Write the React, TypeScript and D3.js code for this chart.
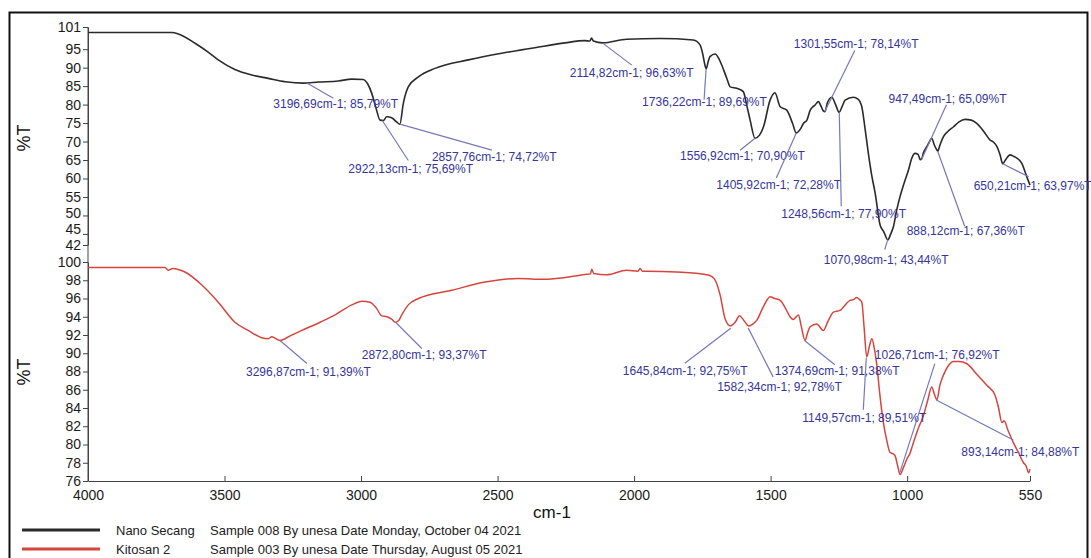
import { useEffect, useRef } from "react";
import * as d3 from "d3";

// top spectrum: Nano Secang (wavenumber cm-1, %T)
const nanoWave = [4000, 3850, 3693, 3669, 3608, 3560, 3523, 3462, 3400, 3340, 3278, 3211, 3156, 3083, 3034, 2992, 2975, 2961, 2945, 2930, 2918, 2906, 2888, 2870, 2858, 2845, 2827, 2790, 2729, 2607, 2485, 2363, 2253, 2180, 2162, 2156, 2149, 2115, 2027, 1905, 1783, 1758, 1748, 1740, 1736, 1728, 1722, 1703, 1690, 1679, 1660, 1648, 1624, 1600, 1588, 1575, 1557, 1540, 1526, 1502, 1484, 1465, 1441, 1420, 1406, 1390, 1380, 1367, 1355, 1337, 1325, 1315, 1307, 1301, 1292, 1276, 1262, 1249, 1238, 1227, 1197, 1180, 1166, 1155, 1142, 1130, 1117, 1099, 1085, 1071, 1060, 1050, 1038, 1026, 1010, 995, 983, 971, 960, 952, 947, 940, 928, 918, 910, 900, 891, 888, 880, 867, 850, 830, 810, 788, 765, 745, 720, 696, 683, 671, 660, 650, 640, 623, 610, 598, 580, 562, 550];
const nanoT = [99.5, 99.5, 99.5, 99.1, 96.6, 94.2, 92.1, 89.5, 88.0, 87.1, 86.2, 85.8, 86.1, 86.4, 86.9, 86.8, 85.5, 83.1, 79.0, 75.8, 75.7, 76.7, 76.45, 75.3, 74.7, 80.4, 84.8, 87.5, 89.8, 92.1, 93.9, 95.4, 96.7, 97.3, 97.2, 98.0, 97.2, 96.7, 97.7, 97.9, 97.5, 96.1, 93.5, 90.5, 89.7, 91.8, 93.0, 93.7, 92.5, 90.7, 87.0, 84.8, 84.4, 83.5, 80.0, 75.8, 70.9, 71.8, 74.0, 81.2, 83.2, 79.4, 78.5, 75.0, 72.3, 73.5, 74.9, 75.8, 78.5, 79.9, 80.8, 79.5, 78.3, 78.1, 80.5, 82.0, 80.0, 77.9, 79.5, 81.2, 82.0, 81.5, 79.4, 74.0, 66.8, 61.0, 56.0, 47.4, 45.5, 43.4, 45.0, 47.0, 51.5, 55.1, 59.0, 62.3, 65.5, 66.8, 66.5, 65.1, 65.3, 67.0, 68.6, 70.0, 70.9, 69.0, 67.7, 67.4, 69.0, 71.3, 72.8, 74.0, 75.3, 76.0, 75.8, 74.9, 72.8, 70.4, 69.8, 68.6, 66.5, 64.0, 65.0, 66.4, 66.0, 65.5, 64.1, 60.5, 58.2];

// bottom spectrum: Kitosan 2
const kitoWave = [4000, 3850, 3718, 3706, 3690, 3645, 3584, 3523, 3462, 3413, 3364, 3340, 3327, 3297, 3260, 3217, 3150, 3095, 3034, 2997, 2967, 2945, 2924, 2905, 2886, 2875, 2862, 2851, 2827, 2790, 2668, 2546, 2424, 2330, 2253, 2173, 2160, 2155, 2148, 2100, 2027, 1985, 1978, 1970, 1954, 1844, 1734, 1715, 1703, 1685, 1667, 1648, 1630, 1614, 1598, 1581, 1565, 1551, 1525, 1502, 1485, 1465, 1445, 1429, 1418, 1398, 1388, 1374, 1365, 1355, 1331, 1307, 1290, 1270, 1246, 1209, 1195, 1185, 1175, 1166, 1158, 1148, 1138, 1129, 1120, 1111, 1100, 1087, 1075, 1062, 1052, 1044, 1035, 1026, 1012, 1001, 990, 977, 960, 940, 925, 910, 900, 891, 880, 867, 850, 830, 810, 781, 745, 708, 678, 665, 653, 645, 630, 611, 590, 574, 565, 555, 550];
const kitoT = [99.4, 99.4, 99.4, 99.1, 99.3, 98.9, 97.5, 95.6, 93.4, 92.5, 91.7, 91.6, 91.8, 91.4, 91.9, 92.5, 93.4, 94.2, 95.3, 95.7, 95.6, 95.0, 94.1, 94.0, 93.7, 93.4, 93.6, 94.2, 95.3, 96.0, 96.9, 97.8, 98.2, 98.1, 98.3, 98.65, 98.7, 99.2, 98.75, 98.6, 99.1, 99.0, 99.3, 99.0, 99.0, 98.9, 98.6, 98.4, 98.0, 96.4, 93.8, 93.0, 93.4, 94.1, 93.6, 93.0, 93.2, 93.6, 95.2, 96.2, 96.0, 95.8, 94.9, 94.0, 93.7, 94.2, 93.0, 91.4, 92.2, 92.9, 93.2, 92.5, 93.5, 94.5, 94.7, 95.8, 95.9, 96.1, 95.9, 95.6, 93.0, 89.6, 90.8, 91.6, 90.5, 88.7, 85.5, 82.4, 80.5, 79.1, 79.0, 78.75, 77.7, 76.7, 77.6, 78.4, 79.0, 80.2, 81.7, 83.2, 84.8, 86.3, 85.5, 84.9, 86.5, 87.6, 88.6, 89.1, 89.1, 88.85, 87.7, 86.5, 85.4, 84.0, 82.4, 82.6, 81.5, 80.2, 79.0, 78.0, 77.7, 76.9, 77.3];

// peak picks
const nanoPeakWave = [3196.69, 2922.13, 2857.76, 2114.82, 1736.22, 1556.92, 1405.92, 1301.55, 1248.56, 1070.98, 947.49, 888.12, 650.21];
const nanoPeakT = [85.79, 75.69, 74.72, 96.63, 89.69, 70.9, 72.28, 78.14, 77.9, 43.44, 65.09, 67.36, 63.97];
const kitoPeakWave = [3296.87, 2872.8, 1645.84, 1582.34, 1374.69, 1149.57, 1026.71, 893.14];
const kitoPeakT = [91.39, 93.37, 92.75, 92.78, 91.38, 89.51, 76.92, 84.88];

// label layout (offsets from the peak point): [labelDx, labelDy, leaderDx, leaderDy]
const nanoLabelPos = [
  [-34, 21, 26, 15], [-34, 48, 26, 40], [32, 33, 92, 26], [-33, 30, 29, 22],
  [-64, 33, -2, 31], [-75, 18, -15, 12], [-80, 52, -20, 45], [-31, -68, 30, -61],
  [-58, 101, 2, 94], [-64, 20, -3, 10], [-33, -61, 25, -55], [-31, 80, 27, 75],
  [-29, 22, 26, 13],
];
const kitoLabelPos = [
  [-34, 31, 27, 23], [-34, 32, 26, 26], [-108, 43, -46, 35], [-31, 59, 25, 49],
  [-30, 30, 30, 24], [-64, 60, -3, 52], [-25, -118, 35, -109], [25, 52, 77, 40],
];

const xTicks = [4000, 3500, 3000, 2500, 2000, 1500, 1000, 550];
const nanoTicks = [101, 95, 90, 85, 80, 75, 70, 65, 60, 55, 50, 45, 42];
const kitoTicks = [100, 98, 96, 94, 92, 90, 88, 86, 84, 82, 80, 78, 76];

const legendNames = ["Nano Secang", "Kitosan 2"];
const legendInfo = [
  "Sample 008 By unesa Date Monday, October 04 2021",
  "Sample 003 By unesa Date Thursday, August 05 2021",
];

const fmt = (v: number) => v.toFixed(2).replace(".", ",");

export default function App() {
  const ref = useRef<SVGSVGElement>(null);

  useEffect(() => {
    const svg = d3.select(ref.current);
    svg.selectAll("*").remove();
    const font = "'Liberation Sans', Arial, sans-serif";
    const W = 1091;
    const H = 558;
    const left = 88;
    const right = 1030;

    svg.append("rect").attr("width", W).attr("height", H).attr("fill", "#fff");
    svg
      .append("rect")
      .attr("x", 9.5)
      .attr("y", 12.5)
      .attr("width", 1078)
      .attr("height", 570)
      .attr("fill", "none")
      .attr("stroke", "#111")
      .attr("stroke-width", 2);

    const x = d3.scaleLinear().domain([4000, 550]).range([left, right]);
    const yTop = d3.scaleLinear().domain([101, 42]).range([27, 245]);
    const yBot = d3.scaleLinear().domain([100, 76]).range([262, 481]);

    const styleAxis = (g) => {
      g.selectAll("text")
        .attr("font-family", font)
        .attr("font-size", 14)
        .attr("fill", "#1a1a1a");
      g.selectAll("line").attr("stroke", "#444");
      g.select(".domain").attr("stroke", "#444");
    };

    const topAxis = svg
      .append("g")
      .attr("transform", `translate(${left},0)`)
      .call(d3.axisLeft(yTop).tickValues(nanoTicks).tickSize(5).tickSizeOuter(0).tickPadding(2))
      .call(styleAxis);
    // the bottom labels of the top panel sit a little higher, as in the original
    topAxis
      .selectAll(".tick text")
      .attr("dy", (d) => (d === 45 ? "-0.05em" : d === 50 ? "0.15em" : "0.32em"));

    svg
      .append("g")
      .attr("transform", `translate(${left},0)`)
      .call(d3.axisLeft(yBot).tickValues(kitoTicks).tickSize(5).tickSizeOuter(0).tickPadding(2))
      .call(styleAxis);
    svg
      .append("line")
      .attr("x1", left)
      .attr("x2", left)
      .attr("y1", yTop(101))
      .attr("y2", yBot(76))
      .attr("stroke", "#444");
    svg
      .append("g")
      .attr("transform", `translate(0,${yBot(76)})`)
      .call(d3.axisBottom(x).tickValues(xTicks).tickFormat(d3.format("d")).tickSize(-5).tickSizeOuter(0).tickPadding(9))
      .call(styleAxis);

    svg
      .append("text")
      .text("cm-1")
      .attr("x", 552)
      .attr("y", 518)
      .attr("text-anchor", "middle")
      .attr("font-family", font)
      .attr("font-size", 17)
      .attr("fill", "#111");
    [138, 372].forEach((cy) => {
      svg
        .append("text")
        .text("%T")
        .attr("transform", `translate(30,${cy}) rotate(-90)`)
        .attr("text-anchor", "middle")
        .attr("font-family", font)
        .attr("font-size", 18)
        .attr("fill", "#111");
    });

    const series = [
      { wave: nanoWave, t: nanoT, y: yTop, color: "#2a2a2a", width: 1.6 },
      { wave: kitoWave, t: kitoT, y: yBot, color: "#d6453d", width: 1.5 },
    ];
    series.forEach((s) => {
      const line = d3
        .line<number>()
        .x((d, i) => x(s.wave[i]))
        .y((d) => s.y(d))
        .curve(d3.curveMonotoneX);
      svg
        .append("path")
        .attr("d", line(s.t))
        .attr("fill", "none")
        .attr("stroke", s.color)
        .attr("stroke-width", s.width)
        .attr("stroke-linejoin", "round");
    });

    const peaks = [
      { wave: nanoPeakWave, t: nanoPeakT, pos: nanoLabelPos, y: yTop },
      { wave: kitoPeakWave, t: kitoPeakT, pos: kitoLabelPos, y: yBot },
    ];
    peaks.forEach((p) => {
      const g = svg.append("g");
      p.wave.forEach((w, i) => {
        const px = x(w);
        const py = p.y(p.t[i]);
        const [lx, ly, ex, ey] = p.pos[i];
        g.append("line")
          .attr("x1", px)
          .attr("y1", py)
          .attr("x2", px + ex)
          .attr("y2", py + ey)
          .attr("stroke", "#7777bb")
          .attr("stroke-width", 1.2);
        g.append("text")
          .text(`${fmt(w)}cm-1; ${fmt(p.t[i])}%T`)
          .attr("x", px + lx)
          .attr("y", py + ly)
          .attr("dy", "0.35em")
          .attr("font-family", font)
          .attr("font-size", 12)
          .attr("fill", "#35359a");
      });
    });

    const legendColors = ["#2a2a2a", "#d6453d"];
    legendNames.forEach((name, i) => {
      const ly = 530 + i * 19;
      svg
        .append("line")
        .attr("x1", 22)
        .attr("x2", 100)
        .attr("y1", ly)
        .attr("y2", ly)
        .attr("stroke", legendColors[i])
        .attr("stroke-width", 3);
      svg
        .append("text")
        .text(name)
        .attr("x", 116)
        .attr("y", ly + 4.5)
        .attr("font-family", font)
        .attr("font-size", 13)
        .attr("fill", "#222");
      svg
        .append("text")
        .text(legendInfo[i])
        .attr("x", 210)
        .attr("y", ly + 4.5)
        .attr("font-family", font)
        .attr("font-size", 13)
        .attr("fill", "#222");
    });
  }, []);

  return (
    <svg
      ref={ref}
      width={1091}
      height={558}
      style={{ position: "absolute", left: 0, top: 0, display: "block" }}
    />
  );
}
